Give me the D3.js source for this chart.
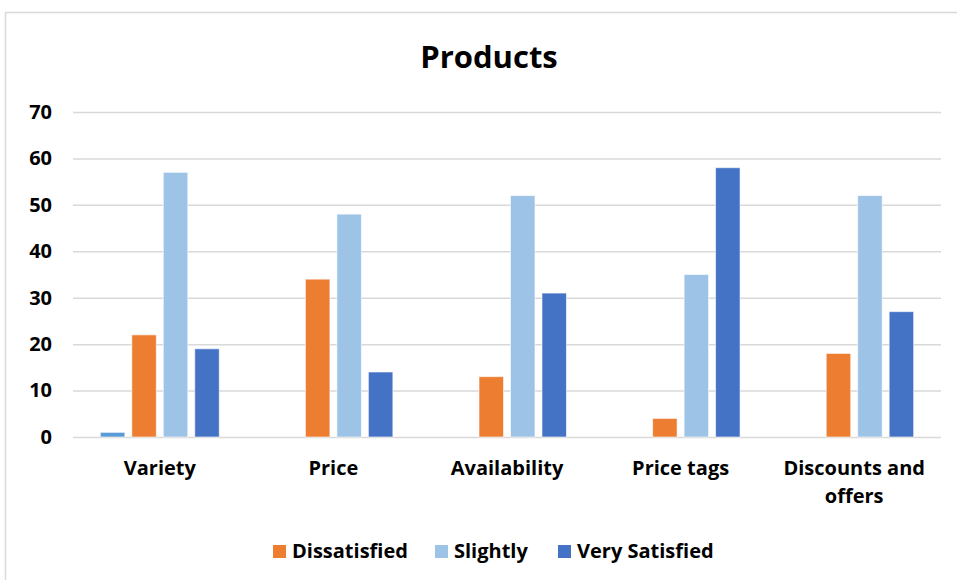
<!DOCTYPE html>
<html>
<head>
<meta charset="utf-8">
<script src="https://cdn.jsdelivr.net/npm/d3@7"></script>
<style>
  html, body { margin: 0; padding: 0; background: #fff; }
  svg { display: block; }
  text { font-family: "Open Sans", Lato, sans-serif; font-weight: 700; fill: #000; }
</style>
</head>
<body>
<svg id="chart" width="957" height="580"></svg>
<script>
// Survey categories and satisfaction counts per series
const categories = ["Variety", "Price", "Availability", "Price tags", "Discounts and offers"];
const seriesNames = ["Very Dissatisfied", "Dissatisfied", "Slightly", "Very Satisfied"];
const veryDissatisfied = [1, 0, 0, 0, 0];
const dissatisfied = [22, 34, 13, 4, 18];
const slightly = [57, 48, 52, 35, 52];
const verySatisfied = [19, 14, 31, 58, 27];
const yTicks = [0, 10, 20, 30, 40, 50, 60, 70];
const legendSeries = ["Dissatisfied", "Slightly", "Very Satisfied"];

const seriesValues = [veryDissatisfied, dissatisfied, slightly, verySatisfied];
const colors = ["#5B9BD5", "#ED7D31", "#9DC3E6", "#4472C4"];
const FONT = "'Open Sans', Lato, sans-serif";
const LABEL_SIZE = 20;

const svg = d3.select("#chart");
const W = 957, H = 580;
const plot = { left: 73, right: 941, top: 112, bottom: 437 };

// Outer chart frame
svg.append("rect")
  .attr("x", 5.5).attr("y", 12.5)
  .attr("width", W + 10).attr("height", H + 10)
  .attr("fill", "#fff").attr("stroke", "#D9D9D9").attr("stroke-width", 1.5);

// Title
svg.append("text")
  .attr("x", 489).attr("y", 68)
  .attr("text-anchor", "middle")
  .attr("font-size", 31)
  .text("Products");

const y = d3.scaleLinear().domain([0, 70]).range([plot.bottom, plot.top]);
const x0 = d3.scaleBand().domain(categories)
  .range([plot.left, plot.right])
  .paddingInner(0.315).paddingOuter(0.1575);
const x1 = d3.scaleBand().domain(seriesNames)
  .range([0, x0.bandwidth()])
  .paddingInner(0.222).paddingOuter(0);
const color = d3.scaleOrdinal().domain(seriesNames).range(colors);

// Gridlines and y labels via axis
const yAxis = svg.append("g")
  .attr("transform", `translate(${plot.left},0)`)
  .call(d3.axisLeft(y).tickValues(yTicks).tickSize(-(plot.right - plot.left)).tickPadding(21));
yAxis.select(".domain").remove();
yAxis.selectAll(".tick line").attr("stroke", "#D9D9D9").attr("stroke-width", 1.5);
yAxis.selectAll(".tick text")
  .attr("font-family", FONT)
  .attr("font-weight", 700)
  .attr("font-size", LABEL_SIZE)
  .attr("fill", "#000");

// Bars
const rows = categories.map((c, i) => ({
  category: c,
  values: seriesNames.map((s, j) => ({ series: s, value: seriesValues[j][i] }))
}));

const groups = svg.append("g").selectAll("g")
  .data(rows).join("g")
  .attr("transform", d => `translate(${x0(d.category)},0)`);

groups.selectAll("rect")
  .data(d => d.values.filter(v => v.value > 0))
  .join("rect")
  .attr("x", d => x1(d.series))
  .attr("y", d => y(d.value))
  .attr("width", x1.bandwidth())
  .attr("height", d => y(0) - y(d.value))
  .attr("fill", d => color(d.series))
  .attr("stroke", "#fff")
  .attr("stroke-opacity", 0.6)
  .attr("stroke-width", 1);

// Category labels (wrapping long ones onto two lines)
const xAxis = svg.append("g")
  .attr("transform", `translate(0,${plot.bottom})`)
  .call(d3.axisBottom(x0).tickSize(0).tickPadding(0));
xAxis.select(".domain").remove();
xAxis.selectAll(".tick text").each(function(d) {
  const t = d3.select(this);
  t.text(null)
    .attr("font-family", FONT)
    .attr("font-weight", 700)
    .attr("font-size", LABEL_SIZE)
    .attr("fill", "#000")
    .attr("y", 0).attr("dy", null);
  const lines = d === "Discounts and offers" ? ["Discounts and", "offers"] : [d];
  lines.forEach((ln, k) => {
    t.append("tspan").attr("x", 0).attr("y", 38 + k * 28).text(ln);
  });
});

// Legend
const legendX = [273, 435, 558];
const legend = svg.append("g").selectAll("g")
  .data(legendSeries).join("g")
  .attr("transform", (d, i) => `translate(${legendX[i]},545)`);
legend.append("rect")
  .attr("width", 13).attr("height", 13)
  .attr("fill", d => color(d));
legend.append("text")
  .attr("x", 19).attr("y", 13)
  .attr("font-size", LABEL_SIZE)
  .text(d => d);
</script>
</body>
</html>
